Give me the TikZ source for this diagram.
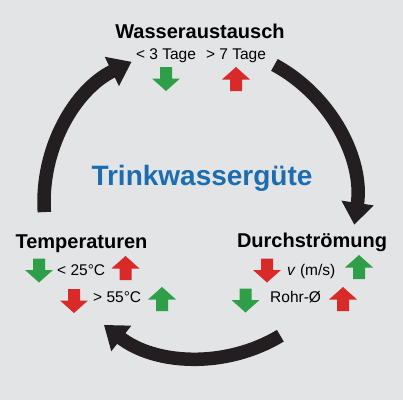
\documentclass[tikz,border=0pt]{standalone}
\usepackage{fontspec}
\setmainfont{Liberation Sans}
\usetikzlibrary{arrows.meta,calc}
\definecolor{bg}{HTML}{E3E4E5}
\definecolor{arcc}{HTML}{231F20}
\definecolor{grn}{HTML}{2E9E48}
\definecolor{rd}{HTML}{D92A2A}
\definecolor{blu}{HTML}{1C6DB0}
\tikzset{
  cyc/.style={draw=arcc, line width=13.5pt, -{Triangle[width=31pt,length=22pt]}},
  head/.style={font=\fontsize{20}{24}\selectfont\bfseries, anchor=base, inner sep=0pt},
  val/.style={font=\fontsize{15.5}{18}\selectfont, anchor=base west, inner sep=0pt},
  titl/.style={font=\fontsize{28}{32}\selectfont\bfseries, text=blu, anchor=base, inner sep=0pt},
  pics/dn/.style={code={\fill[#1] (-6,12) -- (6,12) -- (6,0.5) -- (14,0.5) -- (0,-12) -- (-14,0.5) -- (-6,0.5) -- cycle;}},
  pics/upa/.style={code={\fill[#1] (-6,-12) -- (6,-12) -- (6,-0.5) -- (14,-0.5) -- (0,12) -- (-14,-0.5) -- (-6,-0.5) -- cycle;}},
}
\begin{document}
\begin{tikzpicture}[x=1pt,y=1pt]
\fill[bg] (0,0) rectangle (403,400);
\useasboundingbox (0,0) rectangle (403,400);
\coordinate (C) at (200,198);
% cycle arcs
\draw[cyc] ($(C)+(61.5:156)$) arc[start angle=61.5, end angle=-8.4, radius=156];
\draw[cyc] ($(C)+(-59:156)$) arc[start angle=-59, end angle=-128, radius=156];
\draw[cyc] ($(C)+(183.7:156)$) arc[start angle=183.7, end angle=116, radius=156];
% texts
\node[head] (wa) at (200,362) {Wasseraustausch};
\node[font=\fontsize{15.5}{18}\selectfont, anchor=base, inner sep=0pt] (t3) at (166,341) {< 3 Tage};
\node[font=\fontsize{15.5}{18}\selectfont, anchor=base, inner sep=0pt] (t7) at (236,341) {> 7 Tage};
\node[titl] (tw) at (202,215) {Trinkwassergüte};
\node[head] (tp) at (81.5,152) {Temperaturen};
\node[head] (ds) at (312,153) {Durchströmung};
\node[val] (t25) at (57,125) {< 25°C};
\node[val] (t55) at (93,98) {> 55°C};
\node[val] (vms) at (287,125) {\textit{v} (m/s)};
\node[val] (rohr) at (270,98) {Rohr-Ø};
% block arrows
\pic at (166,321) {dn=grn};
\pic at (236,321) {upa=rd};
\pic at (39,129.5) {dn=grn};
\pic at (125.5,132) {upa=rd};
\pic at (74,99) {dn=rd};
\pic at (162,101) {upa=grn};
\pic at (267,129.5) {dn=rd};
\pic at (359,133) {upa=grn};
\pic at (245.5,99.5) {dn=grn};
\pic at (343,101) {upa=rd};
\end{tikzpicture}
\end{document}
